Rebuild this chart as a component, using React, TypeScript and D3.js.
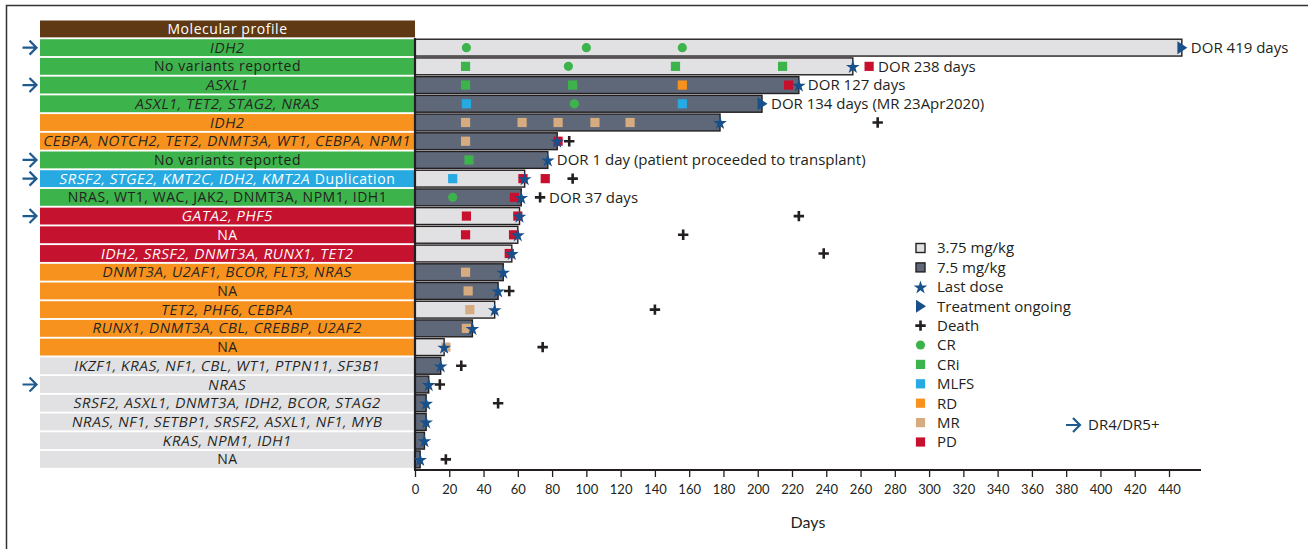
import React, { useEffect, useRef } from "react";
import * as d3 from "d3";

const W = 1308;
const H = 549;
const FONT = "'Open Sans', 'Noto Sans', sans-serif";
const TICK_FONT = "Lato, 'Noto Sans', sans-serif";

// molecular profile per patient, top to bottom
const profiles = [
  "IDH2",
  "No variants reported",
  "ASXL1",
  "ASXL1, TET2, STAG2, NRAS",
  "IDH2",
  "CEBPA, NOTCH2, TET2, DNMT3A, WT1, CEBPA, NPM1",
  "No variants reported",
  "SRSF2, STGE2, KMT2C, IDH2, KMT2A Duplication",
  "NRAS, WT1, WAC, JAK2, DNMT3A, NPM1, IDH1",
  "GATA2, PHF5",
  "NA",
  "IDH2, SRSF2, DNMT3A, RUNX1, TET2",
  "DNMT3A, U2AF1, BCOR, FLT3, NRAS",
  "NA",
  "TET2, PHF6, CEBPA",
  "RUNX1, DNMT3A, CBL, CREBBP, U2AF2",
  "NA",
  "IKZF1, KRAS, NF1, CBL, WT1, PTPN11, SF3B1",
  "NRAS",
  "SRSF2, ASXL1, DNMT3A, IDH2, BCOR, STAG2",
  "NRAS, NF1, SETBP1, SRSF2, ASXL1, NF1, MYB",
  "KRAS, NPM1, IDH1",
  "NA",
];
const uprightLabels = ["No variants reported", "NA", "NRAS, WT1, WAC, JAK2, DNMT3A, NPM1, IDH1"];

// best response group colour of the profile cell
const profileGroup = [
  "green", "green", "green", "green", "orange", "orange", "green", "blue", "green",
  "red", "red", "red", "orange", "orange", "orange", "orange", "orange",
  "gray", "gray", "gray", "gray", "gray", "gray",
];
const dr5Rows = [0, 2, 6, 7, 9, 18];

const doseLevel = [
  "3.75", "3.75", "7.5", "7.5", "7.5", "7.5", "7.5", "3.75", "7.5",
  "3.75", "3.75", "3.75", "7.5", "7.5", "3.75", "7.5", "3.75",
  "7.5", "7.5", "7.5", "7.5", "7.5", "7.5",
];
const treatmentDays = [
  447.5, 255.5, 224, 202.5, 178, 83, 77.5, 64, 62,
  61, 60, 56.5, 51.5, 48.5, 46.5, 33.5, 17,
  15, 8, 6.5, 6.5, 5.5, 3,
];
const ongoingRows = [0, 3];

// [row, day, response]
const responses: [number, number, string][] = [
  [0, 30, "CR"], [0, 100, "CR"], [0, 156, "CR"],
  [1, 29.5, "CRi"], [1, 89.5, "CR"], [1, 152, "CRi"], [1, 214.5, "CRi"], [1, 265, "PD"],
  [2, 29.5, "CRi"], [2, 92, "CRi"], [2, 156, "RD"], [2, 218, "PD"],
  [3, 30, "MLFS"], [3, 93, "CR"], [3, 156, "MLFS"],
  [4, 29.5, "MR"], [4, 62.5, "MR"], [4, 83.5, "MR"], [4, 105, "MR"], [4, 125.5, "MR"],
  [5, 29.5, "MR"], [5, 83.5, "PD"],
  [6, 31.5, "CRi"],
  [7, 22, "MLFS"], [7, 63, "PD"], [7, 76, "PD"],
  [8, 22, "CR"], [8, 58, "PD"],
  [9, 30, "PD"], [9, 60, "PD"],
  [10, 29.5, "PD"], [10, 57.5, "PD"],
  [11, 55, "PD"],
  [12, 29.5, "MR"],
  [13, 31, "MR"],
  [14, 32, "MR"],
  [15, 30, "MR"],
  [16, 18, "MR"],
];

// [row, day]
const deaths: [number, number][] = [
  [4, 270], [5, 90], [7, 92], [8, 73], [9, 224], [10, 156.5], [11, 238.5],
  [13, 55], [14, 140], [16, 74.5], [17, 27], [18, 14.5], [19, 48.5], [22, 18],
];

const dorNotes: [number, string][] = [
  [0, "DOR 419 days"],
  [1, "DOR 238 days"],
  [2, "DOR 127 days"],
  [3, "DOR 134 days (MR 23Apr2020)"],
  [6, "DOR 1 day (patient proceeded to transplant)"],
  [8, "DOR 37 days"],
];

const xTicks = d3.range(0, 441, 20);
const legendLabels = [
  "3.75 mg/kg", "7.5 mg/kg", "Last dose", "Treatment ongoing", "Death",
  "CR", "CRi", "MLFS", "RD", "MR", "PD",
];
const legendKeys = ["3.75", "7.5", "star", "ongoing", "death", "CR", "CRi", "MLFS", "RD", "MR", "PD"];

const groupFill: Record<string, string> = {
  green: "#3cb44b",
  orange: "#f7921e",
  blue: "#27aae1",
  red: "#c4122f",
  gray: "#e1e1e3",
};
const groupText: Record<string, string> = {
  green: "#231f20",
  orange: "#231f20",
  blue: "#ffffff",
  red: "#ffffff",
  gray: "#231f20",
};
const responseColor: Record<string, string> = {
  CR: "#3cb44b",
  CRi: "#3cb44b",
  MLFS: "#27aae1",
  RD: "#f7921e",
  MR: "#d7ab80",
  PD: "#c8102e",
};
const doseFill: Record<string, string> = { "3.75": "#e1e1e3", "7.5": "#5f6878" };
const INK = "#231f20";
const NAVY = "#17508a";

function drawSymbol(g: any, key: string, cx: number, cy: number) {
  if (key === "CR") {
    g.append("circle").attr("cx", cx).attr("cy", cy).attr("r", 4.6).attr("fill", responseColor.CR);
  } else if (responseColor[key]) {
    g.append("rect").attr("x", cx - 4.6).attr("y", cy - 4.6).attr("width", 9.2).attr("height", 9.2)
      .attr("fill", responseColor[key]);
  } else if (key === "star") {
    g.append("path").attr("transform", `translate(${cx},${cy + 0.8})`)
      .attr("d", d3.symbol(d3.symbolStar, 58)()).attr("fill", NAVY);
  } else if (key === "ongoing") {
    g.append("path").attr("transform", `translate(${cx},${cy})`)
      .attr("d", "M-4.5,-6.5L5.5,0L-4.5,6.5Z").attr("fill", NAVY);
  } else if (key === "death") {
    g.append("path").attr("transform", `translate(${cx},${cy})`)
      .attr("d", "M-5.2,0H5.2M0,-5.2V5.2").attr("stroke", INK).attr("stroke-width", 2.6).attr("fill", "none");
  } else if (doseFill[key]) {
    g.append("rect").attr("x", cx - 4.5).attr("y", cy - 4.5).attr("width", 9).attr("height", 9)
      .attr("fill", doseFill[key]).attr("stroke", INK).attr("stroke-width", 1.4);
  }
}

function drawArrow(g: any, x0: number, cy: number) {
  g.append("path")
    .attr("d", `M${x0},${cy}H${x0 + 14}M${x0 + 7},${cy - 7}L${x0 + 14},${cy}L${x0 + 7},${cy + 7}`)
    .attr("fill", "none").attr("stroke", "#1f5b8e").attr("stroke-width", 2.2);
}

// label text; the oblique style is faked with a skew so widths stay like the upright face
function labelText(g: any, txt: string, x0: number, cy: number, color: string, oblique: boolean, anchor = "middle") {
  return g.append("text")
    .attr("transform", `translate(${x0},${cy})${oblique ? " skewX(-11)" : ""}`)
    .attr("dy", "0.36em").attr("text-anchor", anchor).attr("fill", color)
    .attr("font-size", 14).attr("letter-spacing", 0.55).text(txt);
}

export default function App() {
  const ref = useRef<SVGSVGElement>(null);

  useEffect(() => {
    const svg = d3.select(ref.current);
    svg.selectAll("*").remove();

    const x = d3.scaleLinear().domain([0, 440]).range([415, 1169]);
    const y = d3.scaleBand<number>()
      .domain(d3.range(profiles.length + 1))
      .range([20.5, 467.8])
      .paddingInner(0.1);
    const bw = y.bandwidth();
    const cy = (i: number) => (y(i + 1) as number) + bw / 2;
    const midX = 227.5;

    // frame
    svg.append("path").attr("d", `M6.5,${H}V5.5H${W}`).attr("fill", "none")
      .attr("stroke", "#333").attr("stroke-width", 1.5);

    // molecular profile column
    const left = svg.append("g");
    left.append("rect").attr("x", 40).attr("y", y(0)).attr("width", 375).attr("height", bw).attr("fill", "#5e3914");
    labelText(left, "Molecular profile", midX, (y(0) as number) + bw / 2, "#fff", false);

    profiles.forEach((p, i) => {
      const grp = profileGroup[i];
      left.append("rect").attr("x", 40).attr("y", y(i + 1)).attr("width", 375).attr("height", bw)
        .attr("fill", groupFill[grp]);
      const col = groupText[grp];
      if (uprightLabels.includes(p)) {
        labelText(left, p, midX, cy(i), col, false);
      } else if (p.endsWith(" Duplication")) {
        const a = labelText(left, p.replace(" Duplication", ""), 0, cy(i), col, true, "start");
        const b = labelText(left, " Duplication", 0, cy(i), col, false, "start").attr("xml:space", "preserve");
        const wa = (a.node() as SVGTextElement).getComputedTextLength();
        const wb = (b.node() as SVGTextElement).getComputedTextLength();
        const x0 = midX - (wa + wb) / 2;
        a.attr("transform", `translate(${x0},${cy(i)}) skewX(-11)`);
        b.attr("transform", `translate(${x0 + wa},${cy(i)})`);
      } else {
        labelText(left, p, midX, cy(i), col, true);
      }
    });
    dr5Rows.forEach(i => drawArrow(left, 22.5, cy(i)));

    // bars
    const bars = svg.append("g");
    treatmentDays.forEach((d, i) => {
      bars.append("rect").attr("x", x(0)).attr("y", y(i + 1)).attr("width", x(d) - x(0)).attr("height", bw)
        .attr("fill", doseFill[doseLevel[i]]).attr("stroke", INK).attr("stroke-width", 1.4);
    });

    // axes
    svg.append("line").attr("x1", 415).attr("x2", 415).attr("y1", 38).attr("y2", 470)
      .attr("stroke", INK).attr("stroke-width", 2.2);
    const ax = svg.append("g").attr("transform", "translate(0,470)")
      .call(d3.axisBottom(x).tickValues(xTicks).tickSize(7).tickSizeOuter(0).tickPadding(8));
    ax.select(".domain").remove();
    ax.append("line").attr("x1", 414).attr("x2", 1201).attr("stroke", INK).attr("stroke-width", 2.2);
    ax.selectAll(".tick line").attr("stroke", INK).attr("stroke-width", 1.3);
    ax.selectAll(".tick text").attr("font-size", 13).attr("font-family", TICK_FONT).attr("fill", INK);
    svg.append("text").attr("x", 808).attr("y", 522).attr("dy", "0.36em").attr("text-anchor", "middle")
      .attr("font-size", 16).attr("font-family", TICK_FONT).attr("fill", INK).text("Days");

    // markers
    const marks = svg.append("g");
    responses.forEach(([r, d, k]) => drawSymbol(marks, k, x(d), cy(r)));
    treatmentDays.forEach((d, i) => drawSymbol(marks, ongoingRows.includes(i) ? "ongoing" : "star", x(d), cy(i)));
    deaths.forEach(([r, d]) => drawSymbol(marks, "death", x(d), cy(r)));

    // DOR annotations
    dorNotes.forEach(([r, txt]) => {
      const days = [treatmentDays[r], ...responses.filter(e => e[0] === r).map(e => e[1]),
        ...deaths.filter(e => e[0] === r).map(e => e[1])];
      const end = x(d3.max(days) as number) + 9;
      svg.append("text").attr("x", end).attr("y", cy(r)).attr("dy", "0.36em")
        .attr("font-size", 15).attr("fill", INK).text(txt);
    });

    // legend
    const ly = d3.scaleLinear().domain([0, legendLabels.length - 1]).range([248, 442]);
    const lg = svg.append("g");
    legendLabels.forEach((lab, i) => {
      drawSymbol(lg, legendKeys[i], 920.5, ly(i));
      lg.append("text").attr("x", 937).attr("y", ly(i)).attr("dy", "0.36em")
        .attr("font-size", 15).attr("fill", INK).text(lab);
    });
    drawArrow(lg, 1066, 425);
    lg.append("text").attr("x", 1088).attr("y", 425).attr("dy", "0.36em")
      .attr("font-size", 15).attr("fill", INK).text("DR4/DR5+");
  }, []);

  return (
    <div style={{ position: "absolute", left: 0, top: 0 }}>
      <svg ref={ref} width={W} height={H} style={{ display: "block", fontFamily: FONT, background: "#fff" }} />
    </div>
  );
}
